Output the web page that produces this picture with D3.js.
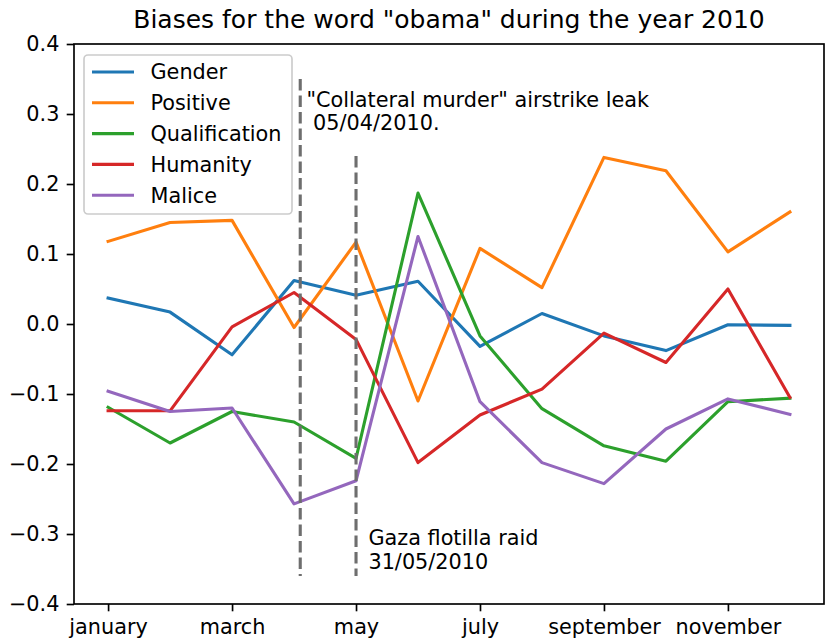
<!DOCTYPE html>
<html>
<head>
<meta charset="utf-8">
<script src="https://cdn.jsdelivr.net/npm/d3@7"></script>
<style>
  html, body { margin: 0; padding: 0; background: #fff; }
  svg { display: block; font-family: "DejaVu Sans", sans-serif; }
</style>
</head>
<body>
<svg id="chart" width="827" height="641"></svg>
<script>
// Monthly bias scores for "obama", 2010
const months = ["january", "february", "march", "april", "may", "june",
                "july", "august", "september", "october", "november", "december"];
const tickMonths = [0, 2, 4, 6, 8, 10];
const yTicks = [-0.4, -0.3, -0.2, -0.1, 0.0, 0.1, 0.2, 0.3, 0.4];

const seriesNames = ["Gender", "Positive", "Qualification", "Humanity", "Malice"];
const gender        = [0.037, 0.017, -0.044, 0.062, 0.041, 0.061, -0.032, 0.015, -0.017, -0.038, -0.001, -0.002];
const positive      = [0.118, 0.145, 0.148, -0.005, 0.117, -0.110, 0.108, 0.052, 0.238, 0.219, 0.103, 0.160];
const qualification = [-0.119, -0.170, -0.125, -0.140, -0.192, 0.187, -0.017, -0.121, -0.174, -0.196, -0.111, -0.106];
const humanity      = [-0.124, -0.124, -0.004, 0.045, -0.022, -0.198, -0.130, -0.093, -0.013, -0.055, 0.050, -0.105];
const malice        = [-0.096, -0.125, -0.120, -0.257, -0.224, 0.125, -0.111, -0.198, -0.228, -0.150, -0.107, -0.129];
const colors = ["#1f77b4", "#ff7f0e", "#2ca02c", "#d62728", "#9467bd"];

// Event markers: month position, vertical extent, label position and lines
const eventX     = [3.1, 4.0];
const eventYLow  = [-0.36, -0.36];
const eventYHigh = [0.35, 0.24];
const labelX     = [3.2, 4.2];
const labelY     = [0.31, -0.316];
const labelLines = [["\"Collateral murder\" airstrike leak", " 05/04/2010."],
                    ["Gaza flotilla raid", "31/05/2010"]];

const seriesValues = [gender, positive, qualification, humanity, malice];

const svg = d3.select("#chart");
const plotLeft = 74, plotRight = 824, plotTop = 44, plotBottom = 604;
const fs = 20.8;

const x = d3.scaleLinear().domain([-0.55, 11.55]).range([plotLeft, plotRight]);
const y = d3.scaleLinear().domain([-0.4, 0.4]).range([plotBottom, plotTop]);

// Title
svg.append("text")
  .attr("x", (plotLeft + plotRight) / 2)
  .attr("y", 28)
  .attr("text-anchor", "middle")
  .attr("font-size", 25)
  .attr("fill", "#000")
  .text("Biases for the word \"obama\" during the year 2010");

// Series lines
const line = d3.line().x((d, i) => x(i)).y(d => y(d));
seriesValues.forEach((vals, k) => {
  svg.append("path")
    .datum(vals)
    .attr("d", line)
    .attr("fill", "none")
    .attr("stroke", colors[k])
    .attr("stroke-width", 3.1)
    .attr("stroke-linejoin", "round")
    .attr("stroke-linecap", "square");
});

// Event markers
eventX.forEach((ex, i) => {
  svg.append("line")
    .attr("x1", x(ex)).attr("x2", x(ex))
    .attr("y1", y(eventYHigh[i])).attr("y2", y(eventYLow[i]))
    .attr("stroke", "#6e6e6e")
    .attr("stroke-width", 3.1)
    .attr("stroke-dasharray", "11.5,5");
  const t = svg.append("text")
    .attr("x", x(labelX[i]))
    .attr("y", y(labelY[i]))
    .attr("font-size", fs)
    .attr("fill", "#000")
    .attr("xml:space", "preserve")
    .style("white-space", "pre");
  labelLines[i].forEach((s, j) => {
    t.append("tspan")
      .attr("x", x(labelX[i]))
      .attr("dy", j === 0 ? 0 : 23.3)
      .text(s);
  });
});

// Axes
const fmt = d => (d < 0 ? "\u2212" : "") + Math.abs(d).toFixed(1);
const yAxis = svg.append("g")
  .attr("transform", `translate(${plotLeft},0)`)
  .call(d3.axisLeft(y).tickValues(yTicks).tickFormat(fmt).tickSize(7.3).tickPadding(7.3));
const xAxis = svg.append("g")
  .attr("transform", `translate(0,${plotBottom})`)
  .call(d3.axisBottom(x).tickValues(tickMonths).tickFormat(i => months[i]).tickSize(7.3).tickPadding(7.3));
[yAxis, xAxis].forEach(g => {
  g.select(".domain").remove();
  g.selectAll(".tick line").attr("stroke", "#000").attr("stroke-width", 1.67);
  g.selectAll(".tick text")
    .attr("font-size", fs)
    .attr("font-family", "DejaVu Sans, sans-serif")
    .attr("fill", "#000");
});
xAxis.selectAll(".tick text").attr("dy", "0.76em");

// Frame
svg.append("rect")
  .attr("x", plotLeft).attr("y", plotTop)
  .attr("width", plotRight - plotLeft).attr("height", plotBottom - plotTop)
  .attr("fill", "none")
  .attr("stroke", "#000")
  .attr("stroke-width", 1.67);

// Legend
const lg = svg.append("g");
lg.append("rect")
  .attr("x", 84).attr("y", 55)
  .attr("width", 208).attr("height", 159)
  .attr("rx", 4).attr("ry", 4)
  .attr("fill", "#fff").attr("fill-opacity", 0.8)
  .attr("stroke", "#cccccc").attr("stroke-width", 1.67);
seriesNames.forEach((name, k) => {
  const cy = 72 + k * 30.8;
  lg.append("line")
    .attr("x1", 92).attr("x2", 134)
    .attr("y1", cy).attr("y2", cy)
    .attr("stroke", colors[k]).attr("stroke-width", 3.1);
  lg.append("text")
    .attr("x", 150.5).attr("y", cy)
    .attr("dy", "0.36em")
    .attr("font-size", fs)
    .attr("fill", "#000")
    .text(name);
});
</script>
</body>
</html>
